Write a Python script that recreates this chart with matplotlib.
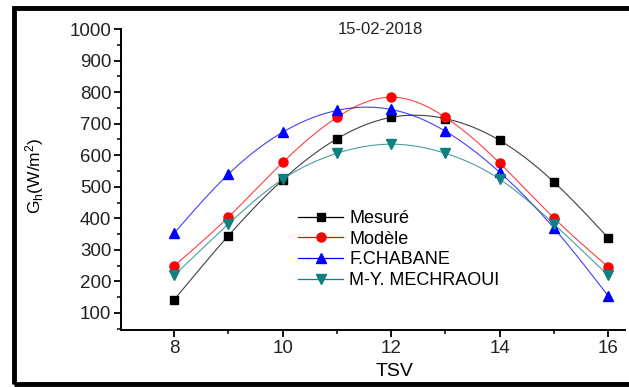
import matplotlib
matplotlib.use("Agg")
import matplotlib.pyplot as plt
import numpy as np
from matplotlib.patches import Rectangle
from matplotlib.ticker import MultipleLocator

plt.rcParams['font.family'] = ['Liberation Sans', 'DejaVu Sans']
plt.rcParams['mathtext.fontset'] = 'custom'
plt.rcParams['mathtext.rm'] = 'Liberation Sans'
plt.rcParams['mathtext.it'] = 'Liberation Sans'

# Irradiance globale horizontale, 15-02-2018
tsv = [8, 9, 10, 11, 12, 13, 14, 15, 16]
mesure = [142, 345, 522, 652, 720, 716, 647, 515, 338]
modele = [249, 404, 577, 720, 784, 720, 575, 401, 246]
chabane = [353, 540, 673, 742, 745, 676, 546, 369, 154]
mechraoui = [219, 382, 524, 606, 635, 606, 524, 382, 219]


def spline(x, y, n=200):
    # spline cubique naturelle (tracé lissé entre les points)
    x = np.asarray(x, float)
    y = np.asarray(y, float)
    h = np.diff(x)
    m = len(x)
    A = np.zeros((m, m))
    b = np.zeros(m)
    A[0, 0] = A[-1, -1] = 1
    for i in range(1, m - 1):
        A[i, i - 1] = h[i - 1]
        A[i, i] = 2 * (h[i - 1] + h[i])
        A[i, i + 1] = h[i]
        b[i] = 6 * ((y[i + 1] - y[i]) / h[i] - (y[i] - y[i - 1]) / h[i - 1])
    M = np.linalg.solve(A, b)
    xs = np.linspace(x[0], x[-1], n)
    k = np.clip(np.searchsorted(x, xs) - 1, 0, m - 2)
    t0 = x[k + 1] - xs
    t1 = xs - x[k]
    ys = (M[k] * t0**3 + M[k + 1] * t1**3) / (6 * h[k]) \
        + (y[k] / h[k] - M[k] * h[k] / 6) * t0 \
        + (y[k + 1] / h[k] - M[k + 1] * h[k] / 6) * t1
    return xs, ys


fig = plt.figure(figsize=(6.29, 3.87), dpi=100)
ax = fig.add_axes([121 / 629, 1 - 330 / 387, (625 - 121) / 629, (330 - 29) / 387])

series = [
    ("Mesuré", mesure, "black", "s", 5.5),
    ("Modèle", modele, "red", "o", 6.5),
    ("F.CHABANE", chabane, "blue", "^", 7),
    ("M-Y. MECHRAOUI", mechraoui, "#0f7f7f", "v", 7),
]

handles = []
for label, vals, col, mk, ms in series:
    xs, ys = spline(tsv, vals)
    ax.plot(xs, ys, color=col, lw=0.8, alpha=0.75)
    ax.plot(tsv, vals, ls="none", marker=mk, ms=ms, color=col, mec=col)
    h, = ax.plot([], [], color=col, lw=0.9, marker=mk, ms=ms, label=label)
    handles.append(h)

ax.set_xlim(7.02, 16.31)
ax.set_ylim(46, 1000)
ax.xaxis.set_major_locator(MultipleLocator(2))
ax.xaxis.set_minor_locator(MultipleLocator(1))
ax.yaxis.set_major_locator(MultipleLocator(100))
ax.yaxis.set_minor_locator(MultipleLocator(50))
ax.set_yticks(range(100, 1001, 100))

for s in ["top", "right"]:
    ax.spines[s].set_visible(False)
for s in ["left", "bottom"]:
    ax.spines[s].set_linewidth(1.4)

ax.tick_params(which="major", direction="out", length=5, width=1.3,
               labelsize=13.5, colors="black", labelcolor="#222222", pad=2)
ax.tick_params(which="minor", direction="out", length=3, width=1.1)

ax.set_xlabel("TSV", fontsize=14, va="top")
ax.xaxis.set_label_coords((395 - 121) / 504, (330 - 363) / 301)
ax.set_ylabel(r"G$_\mathregular{h}$(W/m$^\mathregular{2}$)", fontsize=12.5,
              va="center")
ax.yaxis.set_label_coords((35 - 121) / 504, (330 - 176) / 301)

ax.legend(handles=handles, loc="upper left", frameon=False,
          bbox_to_anchor=(298 / 629, 1 - 210 / 387),
          bbox_transform=fig.transFigure, fontsize=13, numpoints=1,
          handlelength=2.5, handletextpad=0.35, labelspacing=0.2,
          borderpad=0, borderaxespad=0)

fig.text(380 / 629, 1 - 30 / 387, "15-02-2018", ha="center", va="center",
         fontsize=12, color="#222222")

# cadre noir autour de la figure
fig.patches.append(Rectangle((13.5 / 629, 1 - 384 / 387), 1.0, (384 - 8) / 387,
                             transform=fig.transFigure, fill=False,
                             lw=3.5, edgecolor="black"))

fig.savefig("out.png", dpi=100)
